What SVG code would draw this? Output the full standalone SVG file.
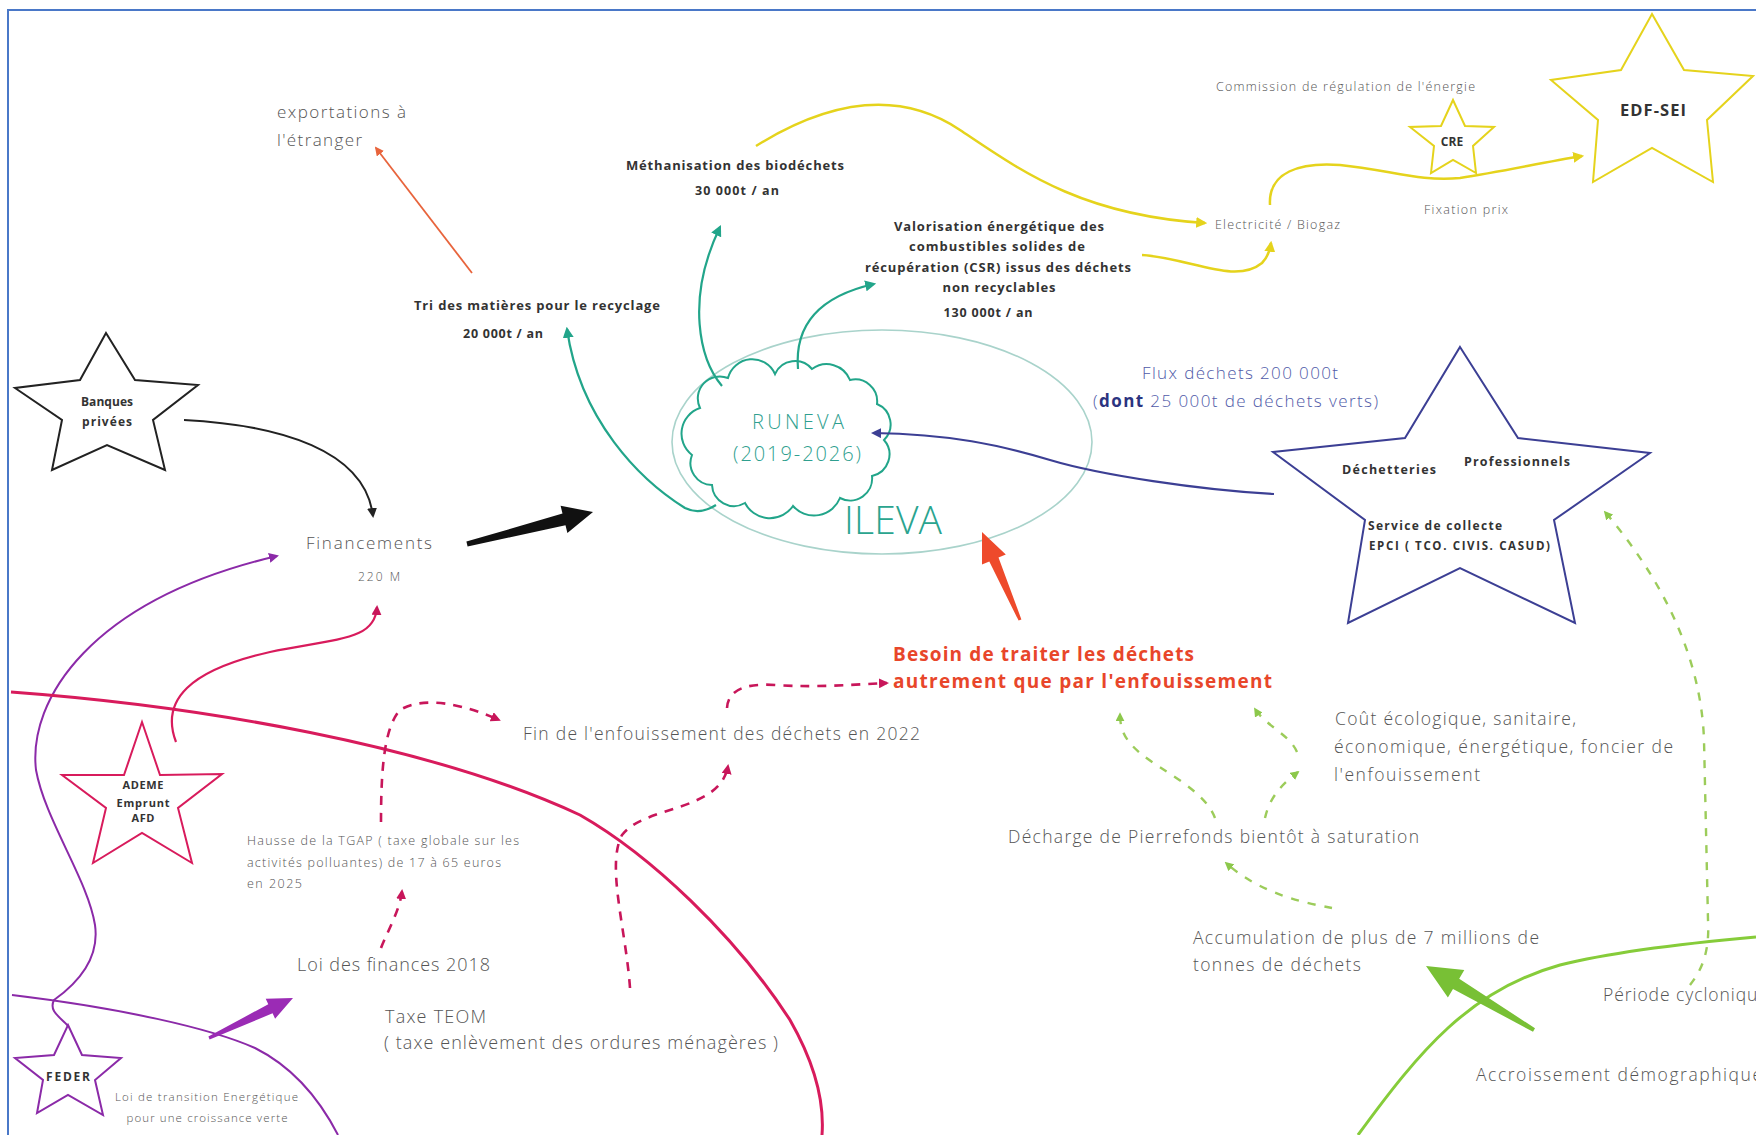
<svg xmlns="http://www.w3.org/2000/svg" width="1756" height="1135" viewBox="0 0 1756 1135">
<style>
.t{font-family:"Open Sans","Liberation Sans",sans-serif;font-weight:300;fill:#555}
.b{font-family:"Open Sans","Liberation Sans",sans-serif;font-weight:bold;fill:#333}
.m{text-anchor:middle}
.ln{fill:none}
.teal{stroke:#22a58a;stroke-width:2.2}
.yel{stroke:#e5d31c;stroke-width:2.5}
.crim{stroke:#d81b5c;stroke-width:3}
.dcrim{stroke:#c8165a;stroke-width:2.6;stroke-dasharray:9 8}
.dgreen{stroke:#9ccc5a;stroke-width:2.4;stroke-dasharray:8 9}
.star{stroke-width:2;stroke-linejoin:miter}
</style>
<defs>
<marker id="mOr" viewBox="0 0 10 10" refX="8" refY="5" markerWidth="9" markerHeight="9" markerUnits="userSpaceOnUse" orient="auto"><path d="M0,0 L10,5 L0,10 z" fill="#e8643c"/></marker>
<marker id="mTeal" viewBox="0 0 10 10" refX="8" refY="5" markerWidth="11" markerHeight="11" markerUnits="userSpaceOnUse" orient="auto"><path d="M0,0 L10,5 L0,10 z" fill="#22a58a"/></marker>
<marker id="mYel" viewBox="0 0 10 10" refX="8" refY="5" markerWidth="11" markerHeight="11" markerUnits="userSpaceOnUse" orient="auto"><path d="M0,0 L10,5 L0,10 z" fill="#e5d31c"/></marker>
<marker id="mNavy" viewBox="0 0 10 10" refX="8" refY="5" markerWidth="10" markerHeight="10" markerUnits="userSpaceOnUse" orient="auto"><path d="M0,0 L10,5 L0,10 z" fill="#3c3f94"/></marker>
<marker id="mBlk" viewBox="0 0 10 10" refX="8" refY="5" markerWidth="10" markerHeight="10" markerUnits="userSpaceOnUse" orient="auto"><path d="M0,0 L10,5 L0,10 z" fill="#222"/></marker>
<marker id="mPur" viewBox="0 0 10 10" refX="8" refY="5" markerWidth="10" markerHeight="10" markerUnits="userSpaceOnUse" orient="auto"><path d="M0,0 L10,5 L0,10 z" fill="#8b2aa8"/></marker>
<marker id="mCrim" viewBox="0 0 10 10" refX="8" refY="5" markerWidth="10" markerHeight="10" markerUnits="userSpaceOnUse" orient="auto"><path d="M0,0 L10,5 L0,10 z" fill="#c8165a"/></marker>
<marker id="mGreen" viewBox="0 0 10 10" refX="8" refY="5" markerWidth="9" markerHeight="9" markerUnits="userSpaceOnUse" orient="auto"><path d="M0,0 L10,5 L0,10 z" fill="#8cc84b"/></marker>
</defs>
<rect width="1756" height="1135" fill="#fff"/>
<path d="M8,1135 L8,10 L1756,10" fill="none" stroke="#4a78c8" stroke-width="2"/>

<g id="ileva">
<ellipse cx="882" cy="442" rx="210" ry="112" fill="none" stroke="#a9d3cb" stroke-width="1.6"/>
<text class="t m" x="893" y="534" font-size="39" style="fill:#2aa48f" textLength="98">ILEVA</text>
</g>
<g id="runeva">
<path d="M700,408 A22,22 0 0 1 728,378 A25,25 0 0 1 775,374 A22,22 0 0 1 812,369 A25,25 0 0 1 850,380 A22,22 0 0 1 877,404 A22,22 0 0 1 884,440 A22,22 0 0 1 872,476 A22,22 0 0 1 840,498 A28,28 0 0 1 793,506 A28,28 0 0 1 745,503 A22,22 0 0 1 712,485 A22,22 0 0 1 692,455 A27,27 0 0 1 700,408 Z" fill="none" stroke="#22a58a" stroke-width="2"/>
<text class="t m" x="798" y="429" font-size="20" style="fill:#2f9f8f" textLength="92">RUNEVA</text>
<text class="t m" x="797" y="461" font-size="20" style="fill:#2f9f8f" textLength="128">(2019-2026)</text>
</g>

<g id="connectors">
<path class="ln" d="M472,273 L376,148" stroke="#e8643c" stroke-width="1.8" marker-end="url(#mOr)"/>
<path class="ln teal" d="M716,505 C705,512 695,513 685,508 C640,480 580,420 567,329" marker-end="url(#mTeal)"/>
<path class="ln teal" d="M722,386 C700,360 685,300 720,227" marker-end="url(#mTeal)"/>
<path class="ln teal" d="M798,369 C794,320 825,295 874,284" marker-end="url(#mTeal)"/>
<path class="ln yel" d="M756,146 C830,100 900,90 960,130 C1020,170 1080,215 1205,223" marker-end="url(#mYel)"/>
<path class="ln yel" d="M1142,255 C1190,258 1235,285 1262,263 C1268,257 1270,250 1271,243" marker-end="url(#mYel)"/>
<path class="ln yel" d="M1270,205 C1268,172 1300,162 1340,165 C1390,170 1420,182 1460,178 C1500,172 1540,163 1582,156" marker-end="url(#mYel)"/>
<path class="ln" d="M1274,494 C1200,490 1100,475 1050,460 C1000,445 950,434 873,433" stroke="#3c3f94" stroke-width="2.2" marker-end="url(#mNavy)"/>
<path class="ln" d="M184,420 C280,425 365,450 373,516" stroke="#222" stroke-width="2" marker-end="url(#mBlk)"/>
<polygon points="466.4,541.6 562.5,513.6 560.6,505.8 593,512 567.4,533 565.5,525.2 467.6,546.4" fill="#111"/>
<path class="ln" d="M68,1026 C62,1018 48,1012 54,1000 C75,985 100,960 95,925 C88,880 45,820 36,770 C28,700 90,600 277,556" stroke="#8b2aa8" stroke-width="2" marker-end="url(#mPur)"/>
<path class="ln" d="M12,995 C120,1008 210,1028 255,1048 C295,1068 320,1100 338,1135" stroke="#8b2aa8" stroke-width="2"/>
<polygon points="208.4,1036.6 268.3,1004.2 265.7,998.8 293,998 275.1,1018.7 272.6,1013.3 209.6,1039.4" fill="#9b2bb5"/>
<path class="ln crim" d="M11,692 C200,706 430,745 580,815 C650,855 735,935 790,1020 C810,1055 825,1095 822,1135"/>
<path class="ln" d="M176,742 C160,700 190,670 270,652 C340,638 375,640 377,607" stroke="#d81b5c" stroke-width="2.2" marker-end="url(#mCrim)"/>
<path class="ln dcrim" d="M381,948 C388,930 400,910 402,891" marker-end="url(#mCrim)"/>
<path class="ln dcrim" d="M381,822 C381,770 384,728 400,710 C425,695 465,705 499,720" marker-end="url(#mCrim)"/>
<path class="ln dcrim" d="M630,988 C626,930 606,865 622,835 C645,805 720,812 728,766" marker-end="url(#mCrim)"/>
<path class="ln dcrim" d="M727,708 C728,690 745,683 775,685 C820,688 860,684 887,683" marker-end="url(#mCrim)"/>
<polygon points="1021.4,619.4 998.5,557.5 1005.8,554.4 982,532 982,564.6 989.3,561.5 1018.6,620.6" fill="#ee4a2b"/>
<path class="ln dgreen" d="M1215,818 C1205,790 1160,770 1140,753 C1125,740 1120,730 1120,714" marker-end="url(#mGreen)"/>
<path class="ln dgreen" d="M1265,818 C1270,795 1285,782 1298,772" marker-end="url(#mGreen)"/>
<path class="ln dgreen" d="M1297,752 C1290,735 1265,725 1255,709" marker-end="url(#mGreen)"/>
<path class="ln dgreen" d="M1332,908 C1300,902 1260,893 1226,863" marker-end="url(#mGreen)"/>
<path class="ln dgreen" d="M1690,985 C1700,972 1710,955 1708,920 L1704,740 C1702,680 1680,600 1605,512" marker-end="url(#mGreen)"/>
<path class="ln" d="M1358,1135 C1420,1050 1470,990 1560,965 C1620,950 1700,942 1756,937" stroke="#86cc3a" stroke-width="3"/>
<polygon points="1535,1028.3 1459.2,978.7 1464.3,970.1 1426,966 1447.9,997.6 1453,989 1533,1031.7" fill="#78c035"/>
</g>

<g id="export"><text class="t" x="277" y="118" font-size="17" textLength="129">exportations à</text><text class="t" x="277" y="146" font-size="17" textLength="85">l'étranger</text></g>
<g id="tri"><text class="b m" x="537" y="310" font-size="13" textLength="246">Tri des matières pour le recyclage</text><text class="b m" x="503" y="338" font-size="12.5" textLength="80">20 000t / an</text></g>
<g id="metha"><text class="b m" x="735" y="170" font-size="13" textLength="218">Méthanisation des biodéchets</text><text class="b m" x="737" y="195" font-size="12.5" textLength="84">30 000t / an</text></g>
<g id="valo">
<text class="b m" x="999" y="231" font-size="13" textLength="210">Valorisation énergétique des</text>
<text class="b m" x="997" y="251" font-size="13" textLength="176">combustibles solides de</text>
<text class="b m" x="998" y="272" font-size="13" textLength="266">récupération (CSR) issus des déchets</text>
<text class="b m" x="999" y="292" font-size="13" textLength="113">non recyclables</text>
<text class="b m" x="988" y="317" font-size="12.5" textLength="89">130 000t / an</text>
</g>
<g id="elec"><text class="t" x="1215" y="229" font-size="12.5" textLength="125">Electricité / Biogaz</text></g>
<g id="commission"><text class="t" x="1216" y="91" font-size="12.5" textLength="259">Commission de régulation de l'énergie</text></g>
<g id="fixation"><text class="t" x="1424" y="214" font-size="12.5" textLength="84">Fixation prix</text></g>
<g id="cre"><polygon class="star" points="1453,100 1465,126 1494,127 1473,146 1476,173 1453,160 1431,173 1434,146 1410,127 1441,126" fill="none" stroke="#e5d31c"/><text class="b m" x="1452" y="146" font-size="12">CRE</text></g>
<g id="edf"><polygon class="star" points="1652,14 1684,70 1753,76 1707,120 1713,182 1652,148 1593,182 1598,120 1551,80 1621,70" fill="none" stroke="#e5d31c" stroke-width="2.5"/><text class="b m" x="1653" y="116" font-size="16.5" textLength="66">EDF-SEI</text></g>
<g id="flux"><text class="t" x="1142" y="379" font-size="17" style="fill:#4f5aa8" textLength="196">Flux déchets 200 000t</text><text class="t" x="1093" y="407" font-size="17" style="fill:#4f5aa8" textLength="285">(<tspan font-weight="bold" style="fill:#2c3480">dont</tspan> 25 000t de déchets verts)</text></g>
<g id="collecte">
<polygon class="star" points="1460,347 1518,438 1650,453 1554,520 1575,623 1460,568 1348,623 1365,520 1273,452 1405,438" fill="none" stroke="#3c3f94"/>
<text class="b" x="1342" y="474" font-size="12.5" textLength="94">Déchetteries</text>
<text class="b" x="1464" y="466" font-size="12.5" textLength="106">Professionnels</text>
<text class="b" x="1368" y="530" font-size="12" textLength="134">Service de collecte</text>
<text class="b" x="1369" y="550" font-size="11.5" textLength="181">EPCI ( TCO. CIVIS. CASUD)</text>
</g>
<g id="banques"><polygon class="star" points="106,333 135,380 198,385 153,420 165,470 107,445 52,470 62,420 15,388 80,380" fill="none" stroke="#222"/><text class="b m" x="107" y="406" font-size="12" textLength="52">Banques</text><text class="b m" x="107" y="426" font-size="12" textLength="50">privées</text></g>
<g id="financements"><text class="t m" x="369" y="549" font-size="17" textLength="126">Financements</text><text class="t m" x="379" y="581" font-size="12" textLength="42">220 M</text></g>
<g id="ademe"><polygon class="star" points="142,722 160,775 222,774 178,808 192,863 142,833 93,863 106,808 62,775 124,775" fill="none" stroke="#d81b5c"/><text class="b m" x="143" y="789" font-size="11" textLength="41">ADEME</text><text class="b m" x="143" y="807" font-size="11" textLength="53">Emprunt</text><text class="b m" x="143" y="822" font-size="11" textLength="23">AFD</text></g>
<g id="feder"><polygon class="star" points="68,1025 82,1055 121,1058 95,1080 103,1115 68,1095 37,1113 43,1080 15,1058 54,1055" fill="none" stroke="#8b2aa8"/><text class="b m" x="68" y="1081" font-size="12" textLength="44">FEDER</text></g>
<g id="loi-transition"><text class="t" x="115" y="1101" font-size="11.5" textLength="183">Loi de transition Energétique</text><text class="t m" x="207" y="1122" font-size="11.5" textLength="161">pour une croissance verte</text></g>
<g id="besoin"><text class="b" x="893" y="661" font-size="19" style="fill:#e8462a" textLength="301">Besoin de traiter les déchets</text><text class="b" x="893" y="688" font-size="19" style="fill:#e8462a" textLength="379">autrement que par l'enfouissement</text></g>
<g id="fin"><text class="t" x="523" y="740" font-size="17.5" textLength="397">Fin de l'enfouissement des déchets en 2022</text></g>
<g id="tgap">
<text class="t" x="247" y="845" font-size="12.5" textLength="272">Hausse de la TGAP ( taxe globale sur les</text>
<text class="t" x="247" y="867" font-size="12.5" textLength="254">activités polluantes) de 17 à 65 euros</text>
<text class="t" x="247" y="888" font-size="12.5" textLength="55">en 2025</text>
</g>
<g id="loi-finances"><text class="t" x="297" y="971" font-size="18" textLength="193">Loi des finances 2018</text></g>
<g id="teom"><text class="t" x="385" y="1023" font-size="18" textLength="101">Taxe TEOM</text><text class="t" x="384" y="1049" font-size="18" textLength="394">( taxe enlèvement des ordures ménagères )</text></g>
<g id="cout">
<text class="t" x="1335" y="725" font-size="17.5" textLength="241">Coût écologique, sanitaire,</text>
<text class="t" x="1334" y="753" font-size="17.5" textLength="339">économique, énergétique, foncier de</text>
<text class="t" x="1334" y="781" font-size="17.5" textLength="146">l'enfouissement</text>
</g>
<g id="decharge"><text class="t" x="1008" y="843" font-size="17.5" textLength="411">Décharge de Pierrefonds bientôt à saturation</text></g>
<g id="accumulation"><text class="t" x="1193" y="944" font-size="17.5" textLength="346">Accumulation de plus de 7 millions de</text><text class="t" x="1193" y="971" font-size="17.5" textLength="168">tonnes de déchets</text></g>
<g id="cyclone"><text class="t" x="1603" y="1001" font-size="17.5" textLength="165">Période cyclonique</text></g>
<g id="demographie"><text class="t" x="1476" y="1081" font-size="17.5" textLength="286">Accroissement démographique</text></g>
</svg>
